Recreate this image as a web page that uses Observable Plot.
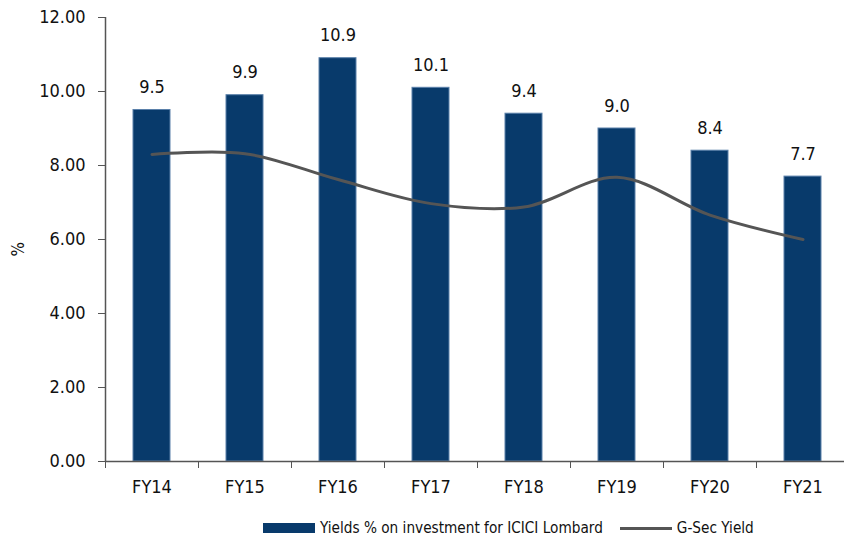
<!DOCTYPE html>
<html><head><meta charset="utf-8">
<script src="https://cdn.jsdelivr.net/npm/d3@7"></script>
<script src="https://cdn.jsdelivr.net/npm/@observablehq/plot@0.6"></script>
<style>
body{margin:0;background:#fff;font-family:"DejaVu Sans Condensed",sans-serif;color:#111;}
#chart svg{overflow:visible;display:block;}
#legend{display:flex;align-items:center;height:32px;margin-left:263px;font-size:15.2px;}
.sw-bar{width:52px;height:10px;background:#083a6b;margin-right:5px;}
.sw-line{width:52px;height:3px;background:#555;margin-right:5px;margin-left:17px;}
</style></head><body><div id="chart"></div><div id="legend"></div><script>
const years = ["FY14","FY15","FY16","FY17","FY18","FY19","FY20","FY21"];
const iciciYield = [9.5,9.9,10.9,10.1,9.4,9.0,8.4,7.7];
const gsecYield = [8.3,8.32,7.62,6.97,6.88,7.68,6.66,6.0];
const yTicks = [0,2,4,6,8,10,12];
const seriesNames = ["Yields % on investment for ICICI Lombard","G-Sec Yield"];

const data = years.map((fy,i)=>({fy, icici: iciciYield[i], gsec: gsecYield[i]}));
const W=844, H=512, mL=105, mR=-5;
const bw = (W - mR - mL)/years.length;
const font = '"DejaVu Sans Condensed",sans-serif';
const chart = Plot.plot({
  width:W, height:H, marginLeft:mL, marginRight:mR, marginTop:17, marginBottom:51,
  style:{fontFamily:font, fontSize:"18px", color:"#111", background:"#fff", overflow:"visible"},
  x:{domain:years, paddingInner:0.6, paddingOuter:0.3, label:null, axis:null},
  y:{domain:[0,12], label:null, axis:null},
  marks:[
    Plot.barY(data,{x:"fy", y:"icici", fill:"#083a6b", stroke:"#5a80aa", strokeWidth:1}),
    Plot.line(data,{x:"fy", y:"gsec", stroke:"#555", strokeWidth:3, curve:"catmull-rom"}),
    Plot.text(data,{x:"fy", y:"icici", text:d=>d.icici.toFixed(1), dy:-17, lineAnchor:"bottom", fontSize:18, fill:"#111"}),
    Plot.ruleY([0],{stroke:"#555", strokeWidth:1.5}),
    Plot.ruleX([years[0]],{dx:-bw/2, stroke:"#555", strokeWidth:1.5}),
    Plot.axisY({ticks:yTicks, tickFormat:d=>d.toFixed(2), tickSize:7, tickPadding:13, stroke:"#555", fontSize:18, label:null}),
    Plot.axisX({tickSize:7, tickFormat:()=>"", dx:-bw/2, stroke:"#555", label:null}),
    Plot.axisX({tickSize:0, tickPadding:19, fontSize:18, label:null}),
    Plot.text(["%"],{frameAnchor:"left", text:d=>d, rotate:-90, dx:-87, dy:17, fontSize:17, fill:"#111"})
  ]
});
document.getElementById("chart").append(chart);
const lg = document.getElementById("legend");
lg.innerHTML = `<div class="sw-bar"></div><span>${seriesNames[0]}</span><div class="sw-line"></div><span>${seriesNames[1]}</span>`;
</script></body></html>
